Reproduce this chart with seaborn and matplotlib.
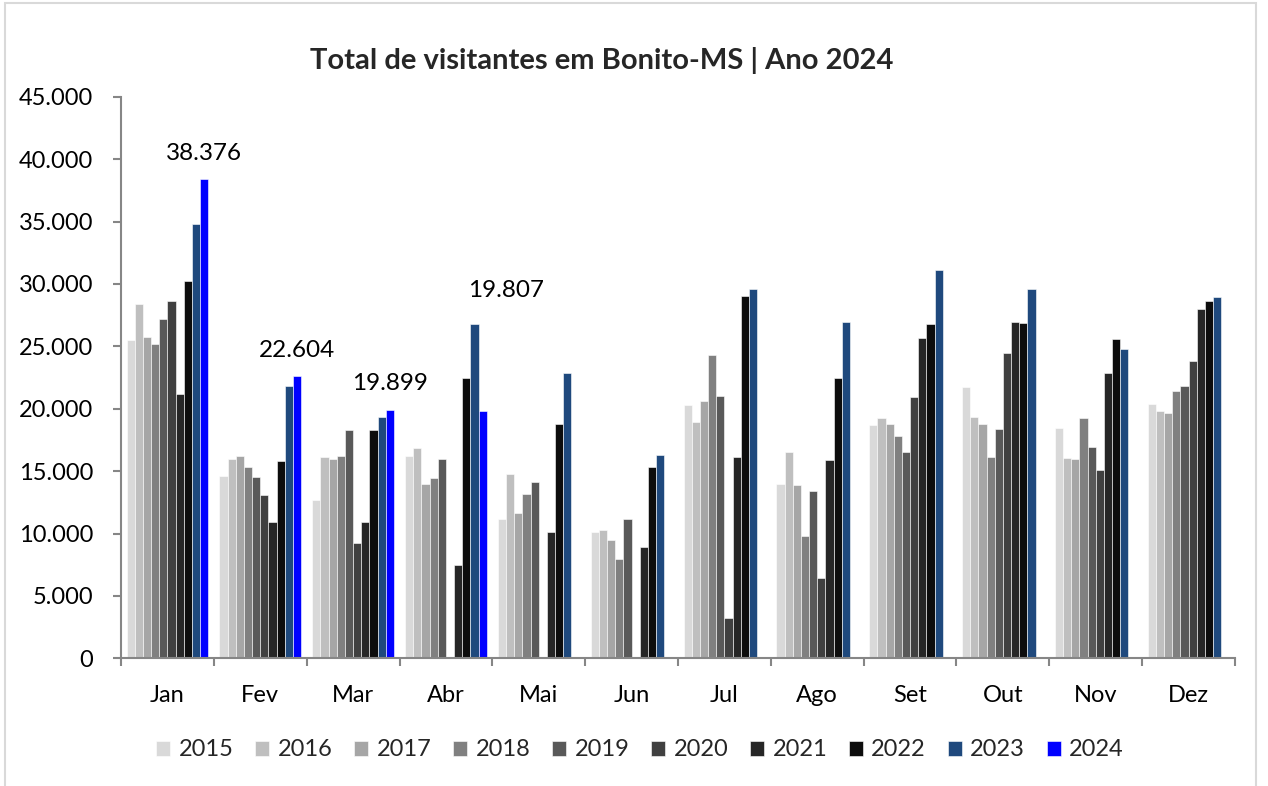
import matplotlib
matplotlib.use("Agg")
import matplotlib.pyplot as plt
from matplotlib.patches import Rectangle
from matplotlib.ticker import FuncFormatter, FixedLocator
import numpy as np
import pandas as pd
import seaborn as sns

# ---- data ----
meses = ["Jan", "Fev", "Mar", "Abr", "Mai", "Jun", "Jul", "Ago", "Set", "Out", "Nov", "Dez"]
anos = ["2015", "2016", "2017", "2018", "2019", "2020", "2021", "2022", "2023", "2024"]
nan = np.nan
v2015 = [25500, 14600, 12700, 16200, 11200, 10100, 20300, 14000, 18700, 21700, 18450, 20400]
v2016 = [28400, 16000, 16100, 16850, 14800, 10300, 18950, 16550, 19250, 19350, 16050, 19850]
v2017 = [25750, 16200, 16000, 13950, 11650, 9500, 20650, 13900, 18800, 18800, 16000, 19650]
v2018 = [25150, 15350, 16200, 14450, 13150, 7950, 24300, 9800, 17800, 16150, 19250, 21400]
v2019 = [27200, 14500, 18300, 15950, 14150, 11150, 21050, 13400, 16550, 18400, 16900, 21850]
v2020 = [28600, 13100, 9250, nan, nan, nan, 3250, 6450, 20950, 24500, 15050, 23850]
v2021 = [21200, 10950, 10950, 7450, 10100, 8950, 16150, 15900, 25700, 26950, 22900, 27950]
v2022 = [30200, 15800, 18300, 22450, 18800, 15300, 29000, 22450, 26800, 26850, 25600, 28650]
v2023 = [34800, 21850, 19300, 26800, 22900, 16300, 29600, 26950, 31150, 29600, 24800, 28950]
v2024 = [38376, 22604, 19899, 19807, nan, nan, nan, nan, nan, nan, nan, nan]

cores = ["#d9d9d9", "#bfbfbf", "#a6a6a6", "#808080", "#595959",
         "#404040", "#262626", "#0d0d0d", "#1f497d", "#0000ff"]

series = [v2015, v2016, v2017, v2018, v2019, v2020, v2021, v2022, v2023, v2024]
df = pd.DataFrame({
    "mes": meses * len(anos),
    "ano": [a for a in anos for _ in meses],
    "visitantes": [v for s in series for v in s],
})

sns.set_theme(style="white")
plt.rcParams["font.family"] = ["Lato", "DejaVu Sans"]
FS = 17

W, H = 1268, 786
fig = plt.figure(figsize=(W / 100, H / 100), dpi=100)
ax = fig.add_axes([121 / W, 1 - 658.3 / H, (1235 - 121) / W, (658.3 - 96.7) / H])

sns.barplot(data=df, x="mes", y="visitantes", hue="ano", order=meses, hue_order=anos,
            palette=dict(zip(anos, cores)), width=0.88, gap=0, dodge=True,
            edgecolor="white", linewidth=0.4, saturation=1, errorbar=None, ax=ax)

ax.set_xlim(-0.5, len(meses) - 0.5)
ax.set_ylim(0, 45000)
ax.set_yticks(np.arange(0, 45001, 5000))
ax.yaxis.set_major_formatter(FuncFormatter(lambda v, p: f"{v:,.0f}".replace(",", ".")))
ax.set_xlabel("")
ax.set_ylabel("")

# ticks between categories, labels centred
ax.xaxis.set_minor_locator(FixedLocator(np.arange(-0.5, len(meses), 1)))
ax.tick_params(axis="x", which="major", length=0, pad=19, labelsize=FS, colors="black")
ax.tick_params(axis="x", which="minor", bottom=True, length=6, width=1.5, color="#868686")
ax.tick_params(axis="y", left=True, length=6, width=1.5, color="#868686", pad=14,
               labelsize=FS, labelcolor="black")
for side in ("top", "right"):
    ax.spines[side].set_visible(False)
for side in ("left", "bottom"):
    ax.spines[side].set_color("#868686")
    ax.spines[side].set_linewidth(1.5)

# data labels for 2024
cont = ax.containers[anos.index("2024")]
offsets = [(0, 26), (0, 26), (0, 26), (23, 121)]
for bar, val, (dx, dy) in zip(cont.patches, v2024, offsets):
    ax.annotate(f"{val:,.0f}".replace(",", "."),
                xy=(bar.get_x() + bar.get_width() / 2, bar.get_height()),
                xytext=(dx, dy), textcoords="offset pixels",
                ha="center", va="center", fontsize=FS + 0.5, color="black")

fig.text(602 / W, 1 - 60 / H, "Total de visitantes em Bonito-MS | Ano 2024",
         ha="center", va="center", fontsize=21, fontweight="bold")

ax.legend(ncol=10, loc="center", bbox_to_anchor=(640 / W, 1 - 750 / H),
          bbox_transform=fig.transFigure, frameon=False, fontsize=FS,
          handlelength=0.6, handleheight=0.6, handletextpad=0.35, columnspacing=0.92,
          borderaxespad=0)

fig.patches.append(Rectangle((5 / W, -0.02), (1256 - 5) / W, 1.02 - 3 / H,
                             transform=fig.transFigure, fill=False,
                             edgecolor="#d9d9d9", linewidth=1.5))

fig.savefig("out.png", dpi=100)
